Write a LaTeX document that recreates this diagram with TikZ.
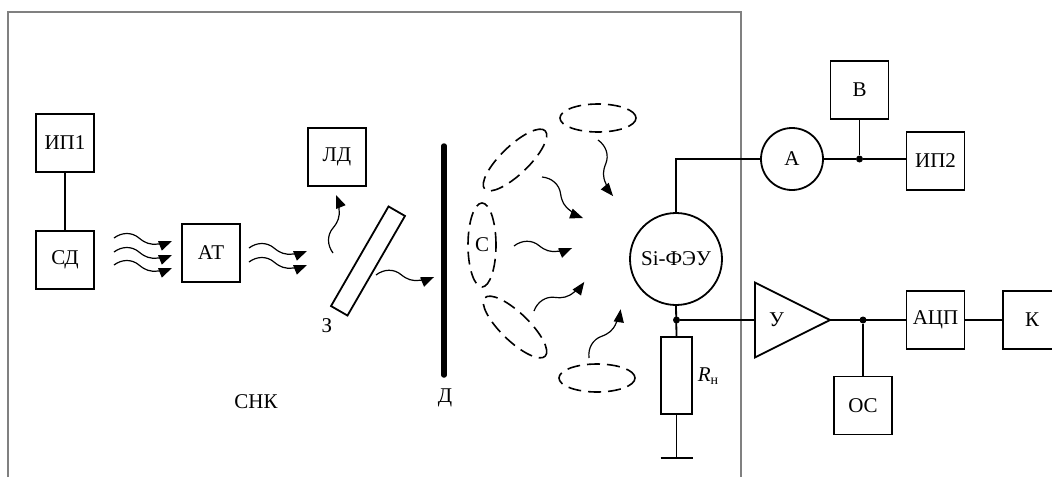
\documentclass[tikz,border=0pt]{standalone}
\usepackage{fontspec}
\setmainfont{Liberation Serif}
\usepackage{xcolor}
\usetikzlibrary{positioning,arrows.meta,shapes.geometric}

\tikzset{
    wave/.pic={\draw[line width=1.2pt,-{Stealth[inset=0pt,length=13pt,width=10pt]}] (0,0) .. controls (8,-6) and (18,-6) .. (25,0) .. controls (31,5) and (36,7) .. (44,6) .. controls (48,6) and (53,5) .. (58,3);}
}

\begin{document}
\begin{tikzpicture}[
    x=1pt, y=-1pt,
    every node/.style={font=\fontsize{21}{24}\selectfont, inner sep=0pt},
    box/.style={draw, line width=1.8pt, minimum width=58pt, minimum height=58pt},
    round/.style={draw, line width=1.8pt, circle},
    cell/.style={draw, dashed, dash pattern=on 13pt off 7pt, line width=1.6pt, ellipse, minimum width=84pt, minimum height=28pt},
    dot/.style={fill, circle, minimum size=7pt},
    wire/.style={line width=1.8pt}
]
\useasboundingbox (0,0) rectangle (1052,477);
\draw[gray, line width=1.5pt] (8,477) -- (8,12) -- (741,12) -- (741,477);

\node[box] (ip1) at (65,143) {ИП1};
\node[box, below=57pt of ip1] (sd) {СД};
\node[box] (at) at (211,253) {АТ\hspace{10pt}};
\node[box] (ld) at (337,157) {ЛД};
\node[draw, line width=1.8pt, minimum width=115pt, minimum height=19pt, rotate=60] (filter) at (368,261) {};
\node (zlabel) at (327,326) {З};
\node (snk) at (256,402) {СНК};
\draw[line width=5.5pt, line cap=round] (444,146) -- (444,375);
\node (dlabel) at (445,398) {Д};

\node[cell, minimum width=76pt] (c1) at (598,118) {};
\node[cell, rotate=44] (c2) at (515,160) {};
\node[cell, minimum width=28pt, minimum height=84pt] (c3) at (482,245) {С};
\node[cell, rotate=-44] (c4) at (515,327) {};
\node[cell, minimum width=76pt] (c5) at (597,378) {};

\foreach \x/\y/\r in {114/238/0, 114/252/0, 114/265/0, 249/248/0, 249/262/0, 376/275/1,
    333/253/90, 598/140/-72, 542/177/-42, 514/246/1, 534/311/33, 589/358/60}
    \pic[rotate=\r] at (\x,\y) {wave};

\node[round, minimum size=92pt] (sipm) at (676,259) {Si-ФЭУ};
\node[round, minimum size=62pt] (amm) at (792,159) {А};
\node[box] (v) at (859.5,90) {В};
\node[box] (ip2) at (935.5,161) {ИП2};
\node[dot] (j1) at (859.5,159) {};
\node[dot] (j2) at (676.5,320) {};
\node[draw, line width=1.8pt, minimum width=31pt, minimum height=77pt] (rn) at (676.5,375.5) {};
\node (rlabel) at (708,376) {\textit{R}\raisebox{-3pt}{\fontsize{14}{16}\selectfont н}};
\coordinate (gnd) at (676.5,458);
\node[draw, line width=1.8pt, outer sep=0pt, isosceles triangle, isosceles triangle apex angle=53, minimum height=75pt, anchor=lower side] (amp) at (755,320) {У};
\node[dot] (j3) at (863,320) {};
\node[box] (adc) at (935.5,320) {АЦП};
\node[box] (k) at (1032,320) {К};
\node[box] (oc) at (863,405.5) {ОС};

\draw[wire] (ip1) -- (sd);
\draw[wire] (sipm.north) |- (amm.west);
\draw[wire] (amm.east) -- (j1) -- (j1 -| ip2.west);
\draw[wire] (v) -- (j1);
\draw[wire] (sipm.south) -- (rn.north);
\draw[wire] (j2) -- (amp.lower side);
\draw[wire] (rn.south) -- (gnd);
\draw[wire] ([xshift=-16pt]gnd) -- ([xshift=16pt]gnd);
\draw[wire] (amp.apex) -- (adc.west);
\draw[wire] (j3) -- (oc.north);
\draw[wire] (adc) -- (k);
\end{tikzpicture}
\end{document}
